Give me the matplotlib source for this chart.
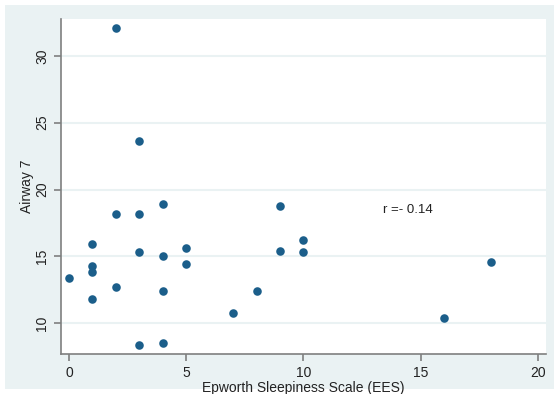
import matplotlib.pyplot as plt
from matplotlib.patches import Rectangle

# Epworth Sleepiness Scale vs Airway 7
ees = [2, 3, 4, 2, 3, 1, 3, 4, 5, 5, 1, 1, 0, 2, 4, 1, 3, 4,
       9, 10, 9, 10, 8, 7, 18, 16]
airway = [32.1, 23.6, 18.9, 18.2, 18.2, 15.9, 15.3, 15.0, 15.6, 14.4, 14.3, 13.8, 13.4,
          12.7, 12.4, 11.8, 8.4, 8.5,
          18.8, 16.2, 15.4, 15.3, 12.4, 10.8, 14.6, 10.4]
x_ticks = [0, 5, 10, 15, 20]
y_ticks = [10, 15, 20, 25, 30]
r_label = 'r =- 0.14'

plt.rcParams['font.family'] = ['Liberation Sans', 'DejaVu Sans']

fig = plt.figure(figsize=(5.54, 3.94), dpi=100)
fig.patch.set_facecolor('white')
# light panel behind the plot region
fig.patches.append(Rectangle((5 / 554, 5 / 394), 1, 384 / 394, transform=fig.transFigure,
                             facecolor='#eaf2f3', edgecolor='none', zorder=-10))

ax = fig.add_axes([61 / 554, 40 / 394, 485 / 554, 335 / 394])
ax.set_facecolor('white')

ax.scatter(ees, airway, s=38, color='#1b5e8a', zorder=3, linewidths=0)

ax.set_xlim(-0.34, 20.35)
ax.set_ylim(7.7, 32.75)
ax.set_xticks(x_ticks)
ax.set_yticks(y_ticks)
ax.set_yticklabels([str(v) for v in y_ticks], rotation=90, va='center')

ax.grid(axis='y', color='#eaf2f3', linewidth=1.5, zorder=0)
ax.set_axisbelow(True)

for side in ['top', 'right']:
    ax.spines[side].set_visible(False)
for side in ['left', 'bottom']:
    ax.spines[side].set_color('#7f7f7f')
    ax.spines[side].set_linewidth(1.2)
ax.tick_params(colors='#7f7f7f', labelcolor='#222222', labelsize=10, length=5, width=1.2)

ax.set_xlabel('Epworth Sleepiness Scale (EES)', fontsize=10, color='#222222', labelpad=1)
ax.set_ylabel('Airway 7', fontsize=10, color='#222222', labelpad=1)

ax.text(13.4, 18.5, r_label, fontsize=9.5, color='#222222', va='center')

fig.savefig('out.png', dpi=100)
